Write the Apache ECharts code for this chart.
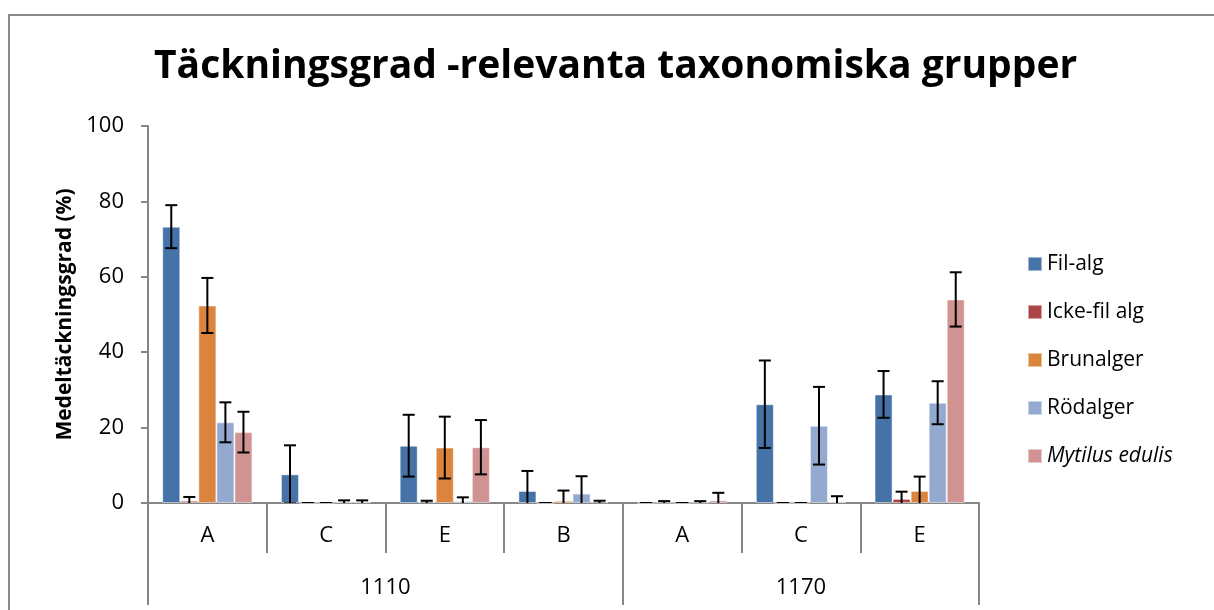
<!DOCTYPE html>
<html>
<head>
<meta charset="utf-8">
<script src="https://cdn.jsdelivr.net/npm/echarts@6/dist/echarts.min.js"></script>
<style>
  html, body { margin: 0; padding: 0; background: #fff; overflow: hidden; }
  #frame {
    position: absolute; left: 8px; top: 14px; width: 1400px; height: 800px;
    border-left: 2px solid #8a8a8a; border-top: 2px solid #8a8a8a;
  }
  #chart { position: absolute; left: 0; top: 0; width: 1214px; height: 610px; }
</style>
</head>
<body>
<div id="frame"></div>
<div id="chart"></div>
<script>
const categories = ["A", "C", "E", "B", "A", "C", "E"];
const groups = ["1110", "1170"];
const groupTicks = [0, 4, 7];
const groupCenters = [2, 5.5];

const seriesNames = ["Fil-alg", "Icke-fil alg", "Brunalger", "Rödalger", "Mytilus edulis"];
const filAlg = [73.3, 7.6, 15.2, 3.2, 0, 26.2, 28.8];
const filAlgErr = [5.7, 7.7, 8.2, 5.3, 0, 11.6, 6.2];
const ickeFil = [0.6, 0, 0.2, 0, 0.1, 0, 1.1];
const ickeFilErr = [1.0, 0, 0.4, 0, 0.4, 0, 1.9];
const brunalger = [52.4, 0, 14.7, 0.6, 0, 0, 3.2];
const brunalgerErr = [7.3, 0, 8.2, 2.7, 0, 0, 3.8];
const rodalger = [21.4, 0.2, 0.5, 2.5, 0.1, 20.5, 26.6];
const rodalgerErr = [5.3, 0.5, 1.0, 4.6, 0.4, 10.3, 5.7];
const mytilus = [18.8, 0.2, 14.8, 0.2, 0.7, 0.4, 54.0];
const mytilusErr = [5.4, 0.5, 7.2, 0.4, 2.0, 1.4, 7.2];

const values = [filAlg, ickeFil, brunalger, rodalger, mytilus];
const errors = [filAlgErr, ickeFilErr, brunalgerErr, rodalgerErr, mytilusErr];
const colors = ["#4572a7", "#aa4643", "#db843d", "#93a9cf", "#d19392"];

const font = "'Open Sans', sans-serif";
const axisGray = "#868686";
const catGap = 0.24;

const chart = echarts.init(document.getElementById("chart"), null, { renderer: "canvas" });

// error bars drawn at the same offset as the bars (barGap 0)
const errorSeries = (si) => ({
  type: "custom",
  name: seriesNames[si] + " err",
  xAxisIndex: 0,
  yAxisIndex: 0,
  clip: true,
  z: 5,
  silent: true,
  data: values[si].map((v, i) => [i, v, errors[si][i]]),
  renderItem: (params, api) => {
    const i = api.value(0);
    const v = api.value(1);
    const e = api.value(2);
    const band = api.size([1, 0])[0];
    const bw = band * (1 - catGap) / values.length;
    const x = api.coord([i, v])[0] + (si - (values.length - 1) / 2) * bw;
    const yTop = api.coord([i, v + e])[1];
    const yBot = api.coord([i, v - e])[1];
    const cap = 6;
    const style = { stroke: "#000", lineWidth: 2 };
    return {
      type: "group",
      children: [
        { type: "line", shape: { x1: x, y1: yTop, x2: x, y2: yBot }, style },
        { type: "line", shape: { x1: x - cap, y1: yTop, x2: x + cap, y2: yTop }, style },
        { type: "line", shape: { x1: x - cap, y1: yBot, x2: x + cap, y2: yBot }, style },
      ],
    };
  },
});

const option = {
  animation: false,
  color: colors,
  title: {
    text: "Täckningsgrad -relevanta taxonomiska grupper",
    left: 149,
    top: 42,
    textStyle: { fontFamily: font, fontSize: 39, fontWeight: "bold", color: "#000" },
  },
  legend: {
    orient: "vertical",
    left: 1022,
    top: 245,
    itemWidth: 14,
    itemHeight: 14,
    itemGap: 20,
    icon: "rect",
    data: seriesNames,
    formatter: (name) => (name === "Mytilus edulis" ? "{i|" + name + "}" : name),
    textStyle: {
      fontFamily: font,
      fontSize: 21,
      color: "#000",
      lineHeight: 28,
      rich: { i: { fontFamily: font, fontSize: 21, fontStyle: "italic", color: "#000" } },
    },
  },
  grid: { left: 148, right: 235, top: 126, bottom: 107, containLabel: false },
  xAxis: [
    {
      type: "category",
      data: categories,
      axisLine: { lineStyle: { color: axisGray, width: 2 } },
      axisTick: { show: true, interval: 0, length: 50, lineStyle: { color: axisGray, width: 2 } },
      axisLabel: { interval: 0, margin: 22, fontFamily: font, fontSize: 22, color: "#000" },
    },
    {
      type: "value",
      min: 0,
      max: 7,
      position: "bottom",
      axisLine: { show: false },
      splitLine: { show: false },
      axisTick: { show: true, length: 102, customValues: groupTicks, lineStyle: { color: axisGray, width: 2 } },
      axisLabel: {
        customValues: groupCenters,
        margin: 74,
        fontFamily: font,
        fontSize: 22,
        color: "#000",
        formatter: (v) => groups[groupCenters.indexOf(v)],
      },
    },
  ],
  yAxis: {
    type: "value",
    min: 0,
    max: 100,
    interval: 20,
    name: "Medeltäckningsgrad (%)",
    nameLocation: "middle",
    nameGap: 62,
    nameTextStyle: { fontFamily: font, fontSize: 21, fontWeight: "bold", color: "#000" },
    axisLine: { show: true, lineStyle: { color: axisGray, width: 2 } },
    axisTick: { show: true, length: 7, lineStyle: { color: axisGray, width: 2 } },
    splitLine: { show: false },
    axisLabel: { margin: 24, fontFamily: font, fontSize: 22, color: "#000" },
  },
  series: [
    ...seriesNames.map((name, si) => ({
      type: "bar",
      name,
      data: values[si],
      barGap: "0%",
      barCategoryGap: catGap * 100 + "%",
      itemStyle: { color: colors[si], borderColor: "rgba(255,255,255,0.5)", borderWidth: 1 },
    })),
    ...seriesNames.map((_, si) => errorSeries(si)),
  ],
};

chart.setOption(option);
</script>
</body>
</html>
